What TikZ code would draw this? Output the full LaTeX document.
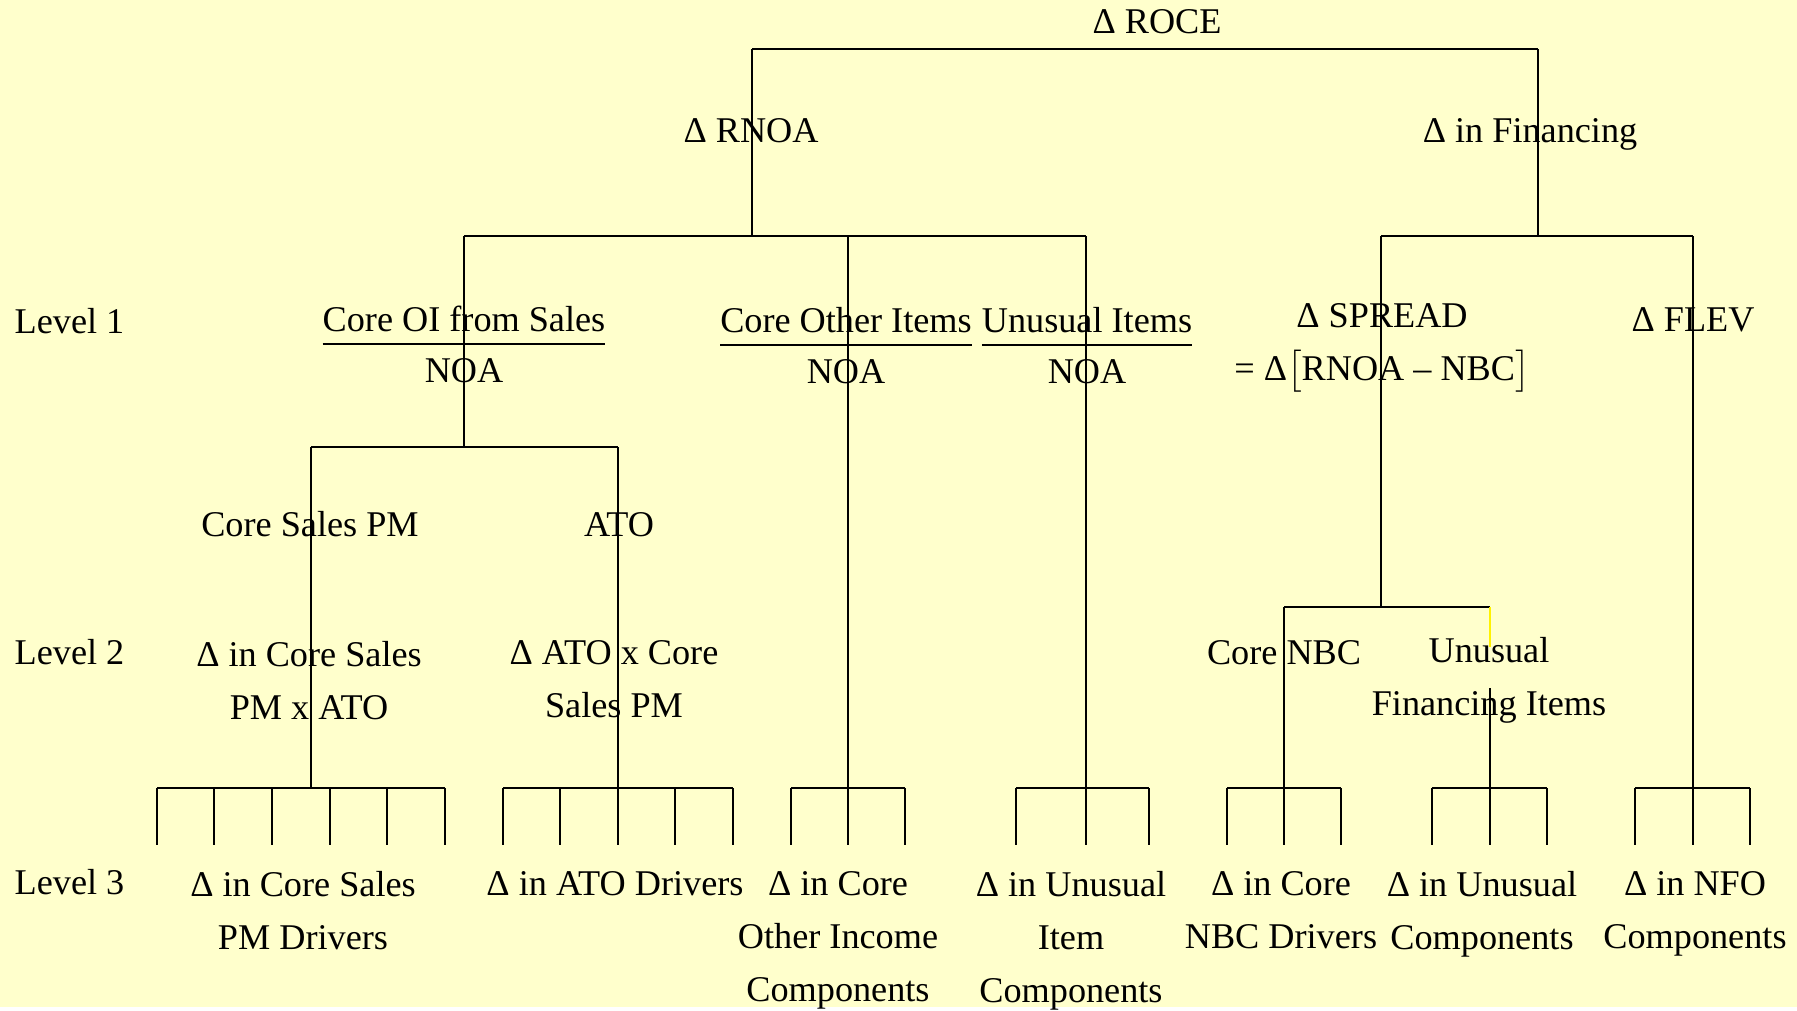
\documentclass[tikz,border=0pt]{standalone}
\usepackage{fontspec}
\setmainfont{Liberation Serif}
\usepackage{amsmath}
\usepackage{tikz}
\definecolor{paper}{RGB}{255,255,204}
\newcommand{\ratiofrac}[2]{$\genfrac{}{}{0.6pt}{0}{\text{\raisebox{-0.07em}{#1}}}{\text{\rule{0pt}{0.86em}#2}}$}

\begin{document}
\begin{tikzpicture}[
    x=0.01cm, y=-0.01cm,
    txt/.style={inner sep=0pt, align=center, font=\fontsize{10.3}{15}\selectfont},
    lvl/.style={txt, anchor=base west},
    link/.style={line width=0.45pt},
    bar/.style={line width=0.75pt},
]
\fill[paper] (0,0) rectangle (1797,1007);

% labels
\node[txt, anchor=base] (roce) at (1157,33) {Δ ROCE};
\node[txt, anchor=base] (rnoa) at (751,142) {Δ RNOA};
\node[txt, anchor=base] (fin) at (1530,142) {Δ in Financing};
\node[lvl] (lv1) at (14,333) {Level 1};
\node[lvl] (lv2) at (14,664) {Level 2};
\node[lvl] (lv3) at (14,894) {Level 3};

\node[txt, anchor=base] (coi) at (464,353) {\ratiofrac{Core OI from Sales}{NOA}};
\node[txt, anchor=base] (cot) at (846,354) {\ratiofrac{Core Other Items}{NOA}};
\node[txt, anchor=base] (unu) at (1087,354) {\ratiofrac{Unusual Items}{NOA}};
\node[txt, anchor=north] (spr) at (1382,303) {Δ SPREAD\\= Δ$\bigl[$RNOA – NBC$\bigr]$};
\node[txt, anchor=base] (flev) at (1693,331) {Δ FLEV};

\node[txt, anchor=base] (csp) at (310,536) {Core Sales PM};
\node[txt, anchor=base] (ato) at (619,536) {ATO};
\node[txt, anchor=north] (dcs) at (309,641) {Δ in Core Sales\\PM x ATO};
\node[txt, anchor=north] (dato) at (614,640) {Δ ATO x Core\\Sales PM};
\node[txt, anchor=base] (cnbc) at (1284,664) {Core NBC};
\node[txt, anchor=north] (ufi) at (1489,637) {Unusual\\Financing Items};

\node[txt, anchor=north] (t1) at (303,871) {Δ in Core Sales\\PM Drivers};
\node[txt, anchor=north] (t2) at (615,871) {Δ in ATO Drivers};
\node[txt, anchor=north] (t3) at (838,871) {Δ in Core\\Other Income\\Components};
\node[txt, anchor=north] (t4) at (1071,871) {Δ in Unusual\\Item\\Components};
\node[txt, anchor=north] (t5) at (1281,871) {Δ in Core\\NBC Drivers};
\node[txt, anchor=north] (t6) at (1482,871) {Δ in Unusual\\Components};
\node[txt, anchor=north] (t7) at (1695,871) {Δ in NFO\\Components};

% ROCE split
\coordinate (rT) at (752,49);
\coordinate (fT) at (1538,49);
\coordinate (rB) at (752,236);
\coordinate (fB) at (1538,236);
\draw[bar] (rT) -- (fT);
\draw[link] (rT) -- (rB);
\draw[link] (fT) -- (fB);

% RNOA split
\coordinate (coiT) at (464,236);
\coordinate (cotT) at (848,236);
\coordinate (unuT) at (1086,236);
\coordinate (coiB) at (464,447);
\coordinate (cotB) at (848,788);
\coordinate (unuB) at (1086,788);
\draw[bar] (coiT) -- (unuT);
\draw[link] (coiT) -- (coiB);
\draw[link] (cotT) -- (cotB);
\draw[link] (unuT) -- (unuB);

\coordinate (csT) at (311,447);
\coordinate (atT) at (618,447);
\coordinate (csB) at (311,788);
\coordinate (atB) at (618,788);
\draw[bar] (csT) -- (atT);
\draw[link] (csT) -- (csB);
\draw[link] (atT) -- (atB);

% financing split
\coordinate (spT) at (1381,236);
\coordinate (flT) at (1693,236);
\coordinate (spB) at (1381,607);
\coordinate (flB) at (1693,788);
\draw[bar] (spT) -- (flT);
\draw[link] (spT) -- (spB);
\draw[link] (flT) -- (flB);

\coordinate (cnT) at (1284,607);
\coordinate (ufT) at (1490,607);
\coordinate (cnB) at (1284,788);
\coordinate (ufM) at (1490,647);
\coordinate (ufN) at (1490,688);
\coordinate (ufB) at (1490,788);
\draw[bar] (cnT) -- (ufT);
\draw[link] (cnT) -- (cnB);
\draw[link, yellow] (ufT) -- (ufM);
\draw[link] (ufN) -- (ufB);

% level 3 fans
\foreach \a/\b [count=\g] in {157/445, 503/733, 791/905, 1016/1149, 1227/1341, 1432/1547, 1635/1750} {
    \coordinate (gl\g) at (\a,788);
    \coordinate (gr\g) at (\b,788);
    \draw[bar] (gl\g) -- (gr\g);
}
\foreach \x [count=\k] in {157,214,272,330,387,445,503,560,618,675,733,791,848,905,1016,1086,1149,1227,1284,1341,1432,1490,1547,1635,1693,1750} {
    \coordinate (kt\k) at (\x,788);
    \coordinate (kb\k) at (\x,845);
    \draw[link] (kt\k) -- (kb\k);
}
\end{tikzpicture}
\end{document}
